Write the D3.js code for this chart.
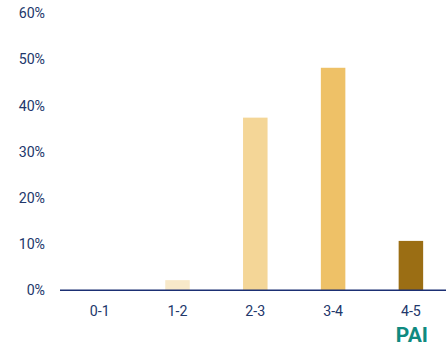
<!DOCTYPE html>
<html>
<head>
<meta charset="utf-8">
<script src="https://cdn.jsdelivr.net/npm/d3@7"></script>
<style>
  html, body { margin: 0; padding: 0; background: #ffffff; }
  svg { display: block; font-family: Roboto, "Noto Sans", sans-serif; }
</style>
</head>
<body>
<svg id="chart" width="446" height="347"></svg>
<script>
// PAI class shares (percent of total)
const categories = ["0-1", "1-2", "2-3", "3-4", "4-5"];
const shares = [0, 2.2, 37.4, 48.2, 10.7];
const barColors = ["#f8e9c9", "#f8e9c9", "#f4d697", "#eec167", "#9b6e14"];
const yTicks = [0, 10, 20, 30, 40, 50, 60];
const axisTitle = "PAI";

const svg = d3.select("#chart");
const textColor = "#22376b";
const axisColor = "#1b2f73";

const x = d3.scaleBand()
  .domain(categories)
  .range([60.8, 449.8])
  .paddingInner(0.685)
  .paddingOuter(0.3425);

const y = d3.scaleLinear()
  .domain([0, 60])
  .range([290.3, 13.3]);

// y tick labels (no axis line, no tick marks)
svg.append("g")
  .selectAll("text")
  .data(yTicks)
  .join("text")
  .attr("x", 45)
  .attr("y", d => y(d))
  .attr("dy", "0.35em")
  .attr("text-anchor", "end")
  .attr("font-size", 14.2)
  .attr("fill", textColor)
  .text(d => d + "%");

// bars
svg.append("g")
  .selectAll("rect")
  .data(categories.map((c, i) => ({ c, v: shares[i], color: barColors[i] })))
  .join("rect")
  .attr("x", d => x(d.c))
  .attr("width", x.bandwidth())
  .attr("y", d => y(d.v))
  .attr("height", d => y(0) - y(d.v))
  .attr("fill", d => d.color);

// baseline
svg.append("line")
  .attr("x1", 60)
  .attr("x2", 446)
  .attr("y1", y(0))
  .attr("y2", y(0))
  .attr("stroke", axisColor)
  .attr("stroke-width", 1.6);

// category labels
svg.append("g")
  .selectAll("text")
  .data(categories)
  .join("text")
  .attr("x", d => x(d) + x.bandwidth() / 2)
  .attr("y", 315.5)
  .attr("text-anchor", "middle")
  .attr("font-size", 14.2)
  .attr("fill", textColor)
  .text(d => d);

// axis title
svg.append("text")
  .attr("x", x("4-5") + x.bandwidth() / 2 + 1)
  .attr("y", 342)
  .attr("text-anchor", "middle")
  .attr("font-size", 21)
  .attr("font-weight", "bold")
  .attr("fill", "#0f8a80")
  .text(axisTitle);
</script>
</body>
</html>
